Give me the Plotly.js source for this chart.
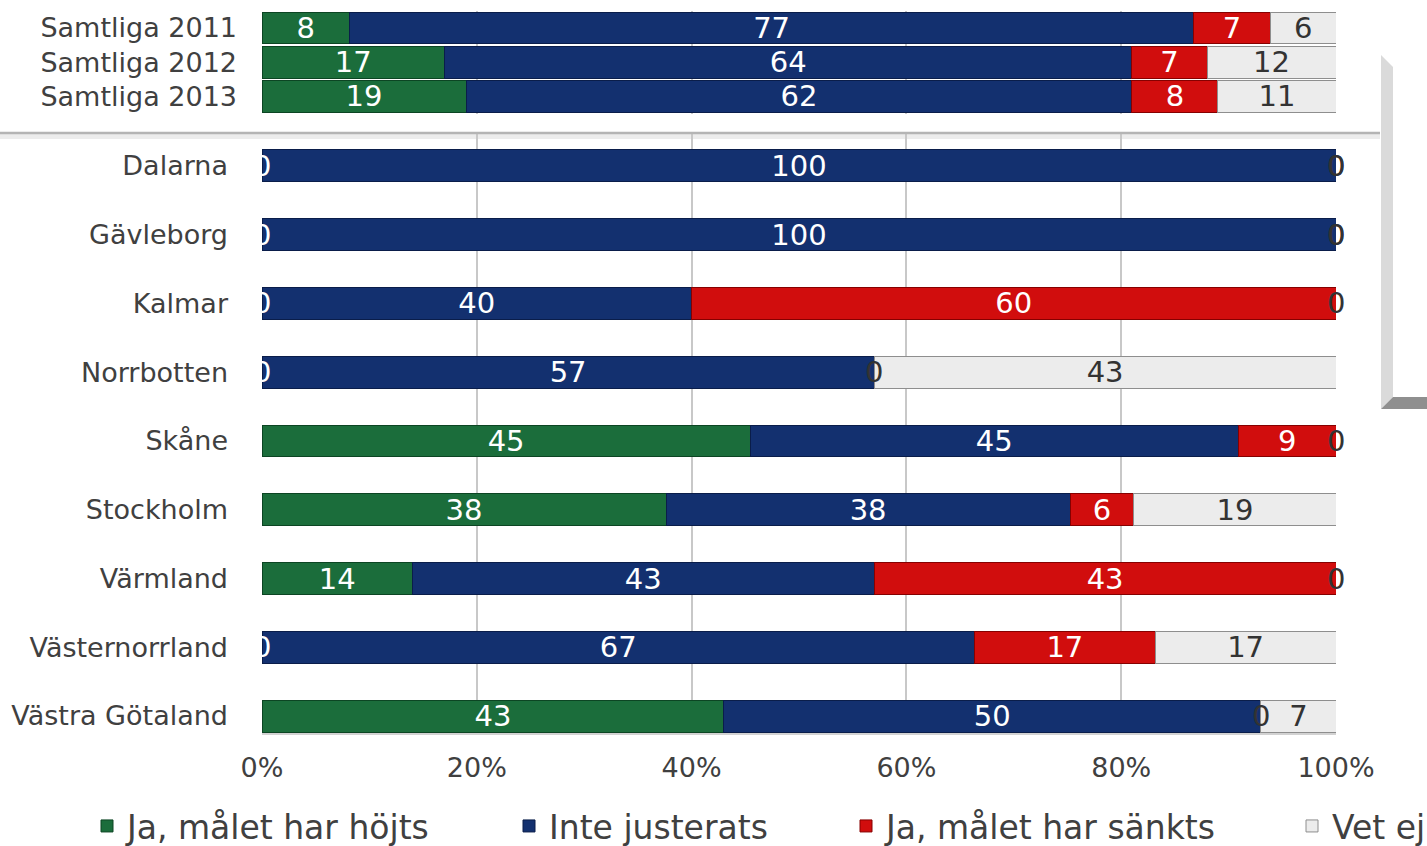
<!DOCTYPE html>
<html>
<head>
<meta charset="utf-8">
<script src="https://cdn.plot.ly/plotly-3.0.1.min.js"></script>
<style>html,body{margin:0;padding:0;background:#fff;}#chart{width:1427px;height:846px;}</style>
</head>
<body>
<div id="chart"></div>
<script>
// ---- data ----
const totalCategories = ["Samtliga 2011", "Samtliga 2012", "Samtliga 2013"];
const regionCategories = ["Dalarna", "Gävleborg", "Kalmar", "Norrbotten", "Skåne", "Stockholm", "Värmland", "Västernorrland", "Västra Götaland"];
const seriesNames = ["Ja, målet har höjts", "Inte justerats", "Ja, målet har sänkts", "Vet ej"];

const totalHojts   = [8, 17, 19];
const totalInte    = [77, 64, 62];
const totalSankts  = [7, 7, 8];
const totalVetEj   = [6, 12, 11];

const regionHojts  = [0, 0, 0, 0, 45, 38, 14, 0, 43];
const regionInte   = [100, 100, 40, 57, 45, 38, 43, 67, 50];
const regionSankts = [0, 0, 60, 0, 9, 6, 43, 17, 0];
const regionVetEj  = [0, 0, 0, 43, 0, 19, 0, 17, 7];

const xTickVals = [0, 20, 40, 60, 80, 100];
const xTickText = ["0%", "20%", "40%", "60%", "80%", "100%"];

// ---- styling ----
const W = 1427, H = 846, L = 262, R = 1336, PB = 733; // plot area bottom (px)
const px2x = p => (p - L) / (R - L);
const py2y = p => (PB - p) / PB;
const FONT = "DejaVu Sans, Verdana, sans-serif";
const fills = ["#1b6d3b", "#13306f", "#d10d0d", "#ececec"];
const edges = ["#0c4523", "#0a1d4a", "#860000", "#8e8e8e"];
const textCols = ["#ffffff", "#ffffff", "#ffffff", "#333333"];
const legendIds = ["legend", "legend2", "legend3", "legend4"];
const legendLeftPx = [87, 509, 846, 1292];

const totals = [totalHojts, totalInte, totalSankts, totalVetEj];
const regions = [regionHojts, regionInte, regionSankts, regionVetEj];

const traces = [];
const annotations = [];

function addGroup(cats, series, yax, width, showLegend) {
  series.forEach((vals, i) => {
    traces.push({
      type: "bar", orientation: "h",
      y: cats, x: vals, yaxis: yax, xaxis: "x",
      name: seriesNames[i],
      legend: legendIds[i],
      legendgroup: "s" + i, showlegend: showLegend,
      width: width,
      marker: {color: fills[i], line: {color: edges[i], width: 1}},
      text: vals.map(v => v === 0 ? "" : String(v)),
      textposition: "inside", insidetextanchor: "middle", constraintext: "none",
      textangle: 0,
      textfont: {family: FONT, size: 29, color: textCols[i]},
      hoverinfo: "name+x"
    });
  });
  // zero labels at their stacked position
  cats.forEach((c, k) => {
    const tot = series.reduce((s, arr) => s + arr[k], 0);
    let cum = 0;
    series.forEach((vals, i) => {
      cum += vals[k];
      if (vals[k] === 0) {
        annotations.push({
          x: 100 * cum / tot, y: c, xref: "x", yref: yax,
          text: "0", showarrow: false, xanchor: "center", yanchor: "middle",
          font: {family: FONT, size: 29, color: (i < 3 && cum === 0) ? "#ffffff" : "#333333"}
        });
      }
    });
  });
}

addGroup(totalCategories, totals, "y2", 0.93, false);
addGroup(regionCategories, regions, "y", 0.465, true);

const shapes = [
  // separator between totals and regions
  {type: "line", xref: "paper", yref: "paper", x0: px2x(0), x1: px2x(1380), y0: py2y(136.5), y1: py2y(136.5),
   line: {color: "#ececec", width: 5}, layer: "below"},
  {type: "line", xref: "paper", yref: "paper", x0: px2x(0), x1: px2x(1380), y0: py2y(133), y1: py2y(133),
   line: {color: "#b4b4b4", width: 2.5}},
  // 3D bracket on the right
  {type: "path", xref: "paper", yref: "paper",
   path: `M${px2x(1381)},${py2y(55)} L${px2x(1393)},${py2y(67)} L${px2x(1393)},${py2y(397)} L${px2x(1381)},${py2y(409)} Z`,
   fillcolor: "#dadada", line: {width: 0}},
  {type: "path", xref: "paper", yref: "paper",
   path: `M${px2x(1393)},${py2y(397)} L${px2x(1430)},${py2y(397)} L${px2x(1430)},${py2y(409)} L${px2x(1381)},${py2y(409)} Z`,
   fillcolor: "#8f8f8f", line: {width: 0}}
];

const layout = {
  width: W, height: H,
  margin: {l: L, r: W - R, t: 0, b: H - PB, pad: 0, autoexpand: false},
  paper_bgcolor: "#ffffff", plot_bgcolor: "rgba(0,0,0,0)",
  barmode: "stack", barnorm: "percent",
  font: {family: FONT, size: 27, color: "#404040"},
  showlegend: true,
  xaxis: {
    range: [0, 100], tickvals: xTickVals, ticktext: xTickText,
    showgrid: true, gridcolor: "#c8c8c8", gridwidth: 2, zeroline: false,
    showline: true, linecolor: "#d2d2d2", linewidth: 2,
    ticks: "", ticklabelstandoff: 10, anchor: "y",
    tickfont: {family: FONT, size: 27, color: "#404040"}, fixedrange: true
  },
  yaxis: {
    domain: [0, py2y(131.6)],
    type: "category", categoryorder: "array", categoryarray: regionCategories,
    range: [8.5 - 0.253, -0.5], showgrid: false, zeroline: false, showline: false,
    ticks: "", ticklabelstandoff: 33,
    tickfont: {family: FONT, size: 27, color: "#404040"}, fixedrange: true
  },
  yaxis2: {
    domain: [py2y(113.6), py2y(10.9)], anchor: "x",
    type: "category", categoryorder: "array", categoryarray: totalCategories,
    range: [2.5, -0.5], showgrid: false, zeroline: false, showline: false,
    ticks: "", ticklabelstandoff: 24,
    tickfont: {family: FONT, size: 27, color: "#404040"}, fixedrange: true
  },
  shapes: shapes,
  annotations: annotations
};

legendIds.forEach((id, i) => {
  layout[id] = {
    orientation: "h", xref: "paper", yref: "paper",
    x: px2x(legendLeftPx[i]), y: py2y(826), xanchor: "left", yanchor: "middle",
    font: {family: FONT, size: 33, color: "#404040"},
    bgcolor: "rgba(0,0,0,0)", itemclick: false
  };
});

Plotly.newPlot("chart", traces, layout, {displayModeBar: false, staticPlot: true});
</script>
</body>
</html>
